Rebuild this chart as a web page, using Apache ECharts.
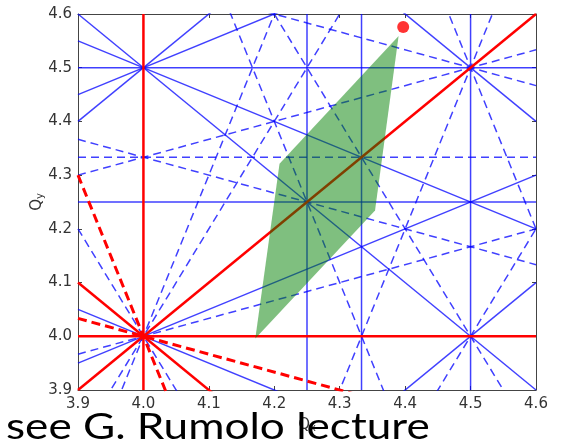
<!DOCTYPE html>
<html>
<head>
<meta charset="utf-8">
<script src="https://cdn.jsdelivr.net/npm/echarts@6/dist/echarts.min.js"></script>
<style>
  html, body { margin: 0; padding: 0; background: #fff; }
  #main { width: 561px; height: 444px; }
</style>
</head>
<body>
<div id="main"></div>
<script>
// tune window
const qMin = 3.9
const qMax = 4.6
const tickLabels = ['3.9', '4.0', '4.1', '4.2', '4.3', '4.4', '4.5', '4.6']

// resonances m*Qx + n*Qy = p, as [m, n, p]
const redSolid = [[1, 0, 4], [0, 1, 4], [1, -1, 0], [1, 1, 8]]
const redDashed = [[3, 1, 16], [1, 3, 16]]
const blueSolid = [
  [2, 0, 9], [3, 0, 13], [4, 0, 17], [0, 2, 9], [0, 4, 17],
  [1, 1, 9], [1, 2, 12], [1, 2, 13], [-1, 2, 4], [-1, 2, 5],
  [2, 2, 17], [2, -2, 1], [-2, 2, 1]
]
const blueDashed = [
  [0, 3, 13], [2, 1, 12], [2, 1, 13], [2, -1, 4], [2, -1, 5],
  [3, 1, 17], [3, 1, 18], [3, -1, 8], [3, -1, 9],
  [1, 3, 17], [1, 3, 18], [-1, 3, 8], [-1, 3, 9]
]

// tune footprint (green) and working point (red dot)
const footQx = [4.171, 4.208, 4.390, 4.354]
const footQy = [3.996, 4.321, 4.559, 4.234]
const wpQx = [4.397]
const wpQy = [4.576]

// two points of a resonance line, the grid clips them
function resLine(r) {
  const [m, n, p] = r
  if (n === 0) return [[p / m, qMin], [p / m, qMax]]
  return [[qMin, (p - m * qMin) / n], [qMax, (p - m * qMax) / n]]
}

function lineSeries(list, color, width, type) {
  return list.map(r => ({
    type: 'line',
    data: resLine(r),
    symbol: 'none',
    clip: true,
    silent: true,
    lineStyle: {color: color, width: width, type: type},
    z: 2
  }))
}

const blue = 'rgba(0,0,255,0.75)'
const red = '#ff0000'

const series = [
  ...lineSeries(blueDashed, blue, 1.5, [8, 5]),
  ...lineSeries(blueSolid, blue, 1.5, 'solid'),
  ...lineSeries(redDashed, red, 3, [9, 5]),
  ...lineSeries(redSolid, red, 2.5, 'solid'),
  {
    type: 'custom',
    data: [0],
    z: 5,
    renderItem: (params, api) => ({
      type: 'polygon',
      shape: {points: footQx.map((x, i) => api.coord([x, footQy[i]]))},
      style: {fill: 'rgba(0,128,0,0.5)'}
    })
  },
  {
    type: 'scatter',
    data: wpQx.map((x, i) => [x, wpQy[i]]),
    symbolSize: 12,
    itemStyle: {color: red},
    z: 6
  }
]

const axisCommon = {
  type: 'value',
  min: qMin,
  max: qMax,
  interval: 0.1,
  splitLine: {show: false},
  axisLine: {show: true, onZero: false, lineStyle: {color: '#444', width: 1}},
  axisTick: {show: true, inside: true, length: 4, lineStyle: {color: '#444'}}
}
const labelStyle = {
  show: true,
  showMinLabel: true,
  showMaxLabel: true,
  color: '#333',
  fontFamily: 'DejaVu Sans',
  fontSize: 15,
  formatter: v => tickLabels[Math.round((v - qMin) * 10)]
}
const nameRich = {
  q: {fontFamily: 'DejaVu Sans', fontSize: 15, color: '#333'},
  s: {fontFamily: 'DejaVu Sans', fontSize: 10, color: '#333', verticalAlign: 'bottom', padding: [6, 0, 0, 0]}
}

const chart = echarts.init(document.getElementById('main'))
chart.setOption({
  animation: false,
  grid: {left: 78, top: 14, right: 25, bottom: 54},
  xAxis: [
    {...axisCommon, position: 'bottom', axisLabel: {...labelStyle, margin: 7},
      name: '{q|Q}{s|x}', nameLocation: 'middle', nameGap: 27, nameMoveOverlap: false,
      nameTextStyle: {rich: nameRich}},
    {...axisCommon, position: 'top', axisLabel: {show: false}}
  ],
  yAxis: [
    {...axisCommon, position: 'left', axisLabel: {...labelStyle, margin: 6},
      name: '{q|Q}{s|y}', nameLocation: 'middle', nameGap: 33, nameRotate: 90, nameMoveOverlap: false,
      nameTextStyle: {rich: nameRich}},
    {...axisCommon, position: 'right', axisLabel: {show: false}}
  ],
  series: series,
  graphic: [{
    type: 'text',
    x: 6,
    y: 427,
    scaleX: 1.225,
    z: 100,
    style: {
      text: 'see G. Rumolo lecture',
      font: '36px Lato',
      fill: '#000',
      textAlign: 'left',
      textVerticalAlign: 'middle',
      align: 'left',
      verticalAlign: 'middle'
    }
  }]
})
</script>
</body>
</html>
